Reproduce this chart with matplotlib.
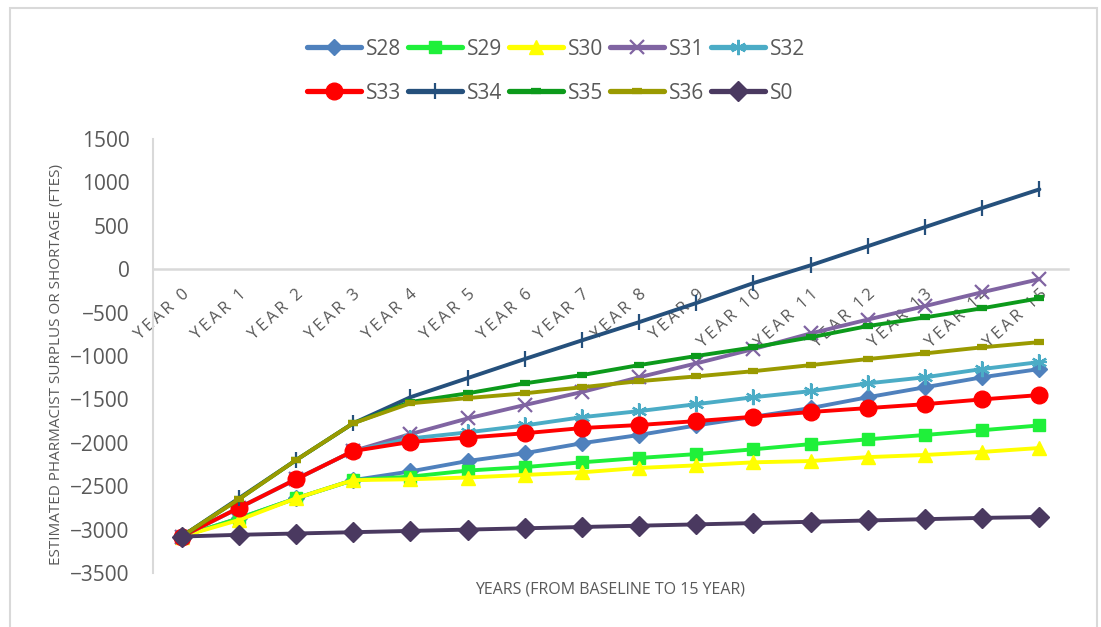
import matplotlib
matplotlib.use("Agg")
import matplotlib.pyplot as plt
from matplotlib.lines import Line2D
from matplotlib.patches import Rectangle

plt.rcParams['font.family'] = ['Open Sans', 'DejaVu Sans']

years = [f"YEAR {i}" for i in range(16)]

s28 = [-3080, -2870, -2640, -2430, -2330, -2210, -2120, -2005, -1910, -1800, -1700, -1600, -1475, -1360, -1245, -1150]
s29 = [-3080, -2870, -2640, -2430, -2390, -2320, -2280, -2225, -2175, -2130, -2075, -2015, -1960, -1910, -1855, -1800]
s30 = [-3080, -2890, -2640, -2430, -2420, -2400, -2370, -2340, -2290, -2260, -2225, -2210, -2165, -2140, -2105, -2060]
s31 = [-3080, -2750, -2420, -2095, -1900, -1720, -1565, -1415, -1245, -1085, -920, -740, -580, -425, -265, -115]
s32 = [-3080, -2750, -2420, -2095, -1950, -1880, -1800, -1705, -1635, -1555, -1475, -1405, -1315, -1245, -1150, -1070]
s33 = [-3080, -2750, -2420, -2095, -1990, -1940, -1890, -1830, -1795, -1750, -1700, -1645, -1600, -1555, -1500, -1450]
s34 = [-3080, -2640, -2200, -1775, -1475, -1255, -1035, -820, -610, -390, -160, 45, 265, 485, 705, 920]
s35 = [-3080, -2650, -2200, -1775, -1530, -1430, -1315, -1220, -1105, -1000, -900, -785, -655, -555, -450, -335]
s36 = [-3080, -2650, -2200, -1775, -1545, -1485, -1430, -1360, -1290, -1235, -1175, -1105, -1035, -970, -900, -840]
s0 = [-3080, -3060, -3045, -3030, -3015, -3000, -2985, -2970, -2955, -2940, -2925, -2910, -2895, -2880, -2865, -2855]

series_names = ["S28", "S29", "S30", "S31", "S32", "S33", "S34", "S35", "S36", "S0"]
series_values = [s28, s29, s30, s31, s32, s33, s34, s35, s36, s0]

styles = {
    "S28": dict(color="#4F81BD", marker="D", ms=8.5),
    "S29": dict(color="#1FF03A", marker="s", ms=9),
    "S30": dict(color="#FFFF00", marker="^", ms=10),
    "S31": dict(color="#8064A2", marker="x", ms=10, mew=1.6),
    "S32": dict(color="#4BACC6", marker=(6, 2, 0), ms=11, mew=1.6),
    "S33": dict(color="#FF0000", marker="o", ms=12),
    "S34": dict(color="#25507C", marker="|", ms=12, mew=1.6),
    "S35": dict(color="#0C9A1B", marker="_", ms=7, mew=4.5),
    "S36": dict(color="#9A9A00", marker="_", ms=7, mew=4.5),
    "S0": dict(color="#4A3960", marker="D", ms=10),
}

fig = plt.figure(figsize=(11.01, 6.27), dpi=100)
ax = fig.add_axes([153 / 1101, 54 / 627, 915 / 1101, 434 / 627])

x = list(range(len(years)))
for name, vals in zip(series_names, series_values):
    st = styles[name]
    ax.plot(x, vals, color=st["color"], lw=2.8, marker=st["marker"],
            ms=st["ms"], mec=st["color"], mfc=st["color"],
            mew=st.get("mew", 1.0), solid_capstyle="round", zorder=3)
    if name == "S32":
        ax.plot(x, vals, ls="none", marker="+", ms=11, mew=1.6, color=st["color"], zorder=3)

ax.set_xlim(-0.5, 15.5)
ax.set_ylim(-3500, 1500)
ax.set_yticks(range(-3500, 1501, 500))

for side in ("top", "right"):
    ax.spines[side].set_visible(False)
ax.spines["left"].set_color("#D9D9D9")
ax.spines["left"].set_linewidth(1.5)
ax.spines["bottom"].set_position(("data", 0))
ax.spines["bottom"].set_color("#D9D9D9")
ax.spines["bottom"].set_linewidth(1.8)
ax.spines["bottom"].set_zorder(1)

ax.tick_params(axis="y", length=0, pad=17, labelsize=15, labelcolor="#595959")
ax.tick_params(axis="x", length=0, pad=12)
spaced = ["\u2009".join(list(lbl.replace(" ", "\u00a0"))) for lbl in years]
ax.set_xticks(x)
ax.set_xticklabels(spaced, rotation=42, ha="right", va="top",
                   rotation_mode="anchor", fontsize=12, color="#595959")

ax.set_ylabel("ESTIMATED PHARMACIST SURPLUS OR SHORTAGE (FTES)", fontsize=11, color="#595959")
ax.yaxis.set_label_coords(-0.097, 0.48)
ax.set_xlabel("YEARS (FROM BASELINE TO 15 YEAR)", fontsize=11.5, color="#595959")
ax.xaxis.set_label_coords(0.5, -0.02)

order = ["S28", "S33", "S29", "S34", "S30", "S35", "S31", "S36", "S32", "S0"]
leg_handles = []
for name in order:
    st = styles[name]
    h = Line2D([], [], color=st["color"], lw=3.8, marker=st["marker"], ms=st["ms"],
               mec=st["color"], mfc=st["color"], mew=st.get("mew", 1.0),
               solid_capstyle="round")
    leg_handles.append(h)
fig.legend(leg_handles, order, ncol=5, loc="upper center",
           bbox_to_anchor=(556 / 1101, 1 - 20 / 627), frameon=False,
           fontsize=15, labelcolor="#595959", handlelength=2.6,
           handletextpad=0.25, columnspacing=0.3, labelspacing=1.1)

fig.add_artist(Rectangle((10 / 1101, -0.02), 1087 / 1101, 1 - 8 / 627 + 0.02,
                         transform=fig.transFigure, fill=False,
                         ec="#D9D9D9", lw=1.5))

fig.savefig("out.png", dpi=100)
